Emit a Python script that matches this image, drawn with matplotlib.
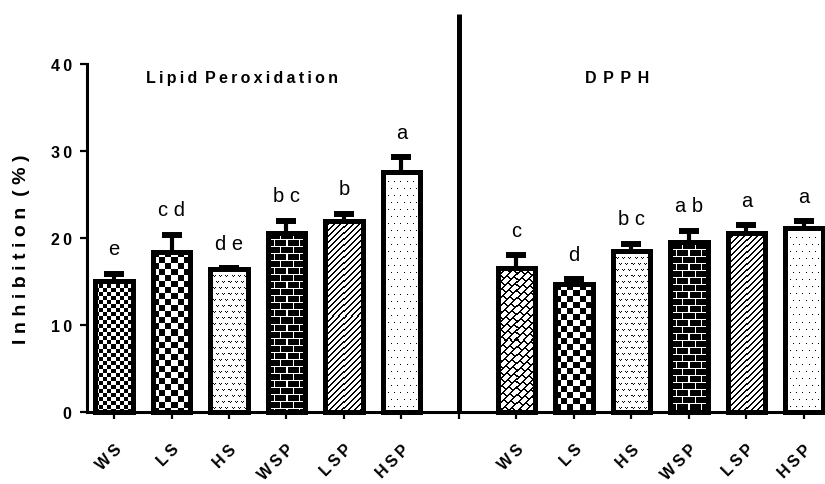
import numpy as np
import matplotlib
matplotlib.use('Agg')
import matplotlib.pyplot as plt

# data
treatments = ['WS', 'LS', 'HS', 'WSP', 'LSP', 'HSP']
assays = ['Lipid Peroxidation', 'DPPH']
lp_mean = [15.1, 18.4, 16.4, 20.6, 22.0, 27.6]
lp_err = [0.8, 2.0, 0.15, 1.4, 0.8, 1.7]
dpph_mean = [16.6, 14.7, 18.45, 19.5, 20.55, 21.2]
dpph_err = [1.4, 0.55, 0.9, 1.35, 0.9, 0.75]
lp_letters = ['e', 'cd', 'de', 'bc', 'b', 'a']
dpph_letters = ['c', 'd', 'bc', 'ab', 'a', 'a']
lp_fills = ['fine_check', 'check', 'vdots', 'brick', 'diag', 'dots']
dpph_fills = ['weave', 'check', 'vdots', 'brick', 'diag', 'dots']
yticks = [0, 10, 20, 30, 40]

FONT = ['Liberation Sans', 'DejaVu Sans']
plt.rcParams['font.family'] = FONT
TS = '\u2009'


def spaced(s, gap=TS):
    return gap.join(s)


def pattern(kind, h, w):
    # 1 = white, 0 = black, one array cell per screen pixel
    i, j = np.mgrid[0:h, 0:w]
    if kind == 'fine_check':
        return ((i // 4 + j // 4) % 2).astype(float)
    if kind == 'check':
        return ((i // 6 + j // 6) % 2).astype(float)
    if kind == 'vdots':
        jj = (j + 3 * ((i // 6) % 2)) % 6
        ii = i % 6
        black = ((ii == 0) & ((jj == 0) | (jj == 2))) | ((ii == 1) & (jj == 1))
        return (~black).astype(float)
    if kind == 'dots':
        black = ((i % 7) == 3) & (((j + 3 * ((i // 7) % 2)) % 6) == 2)
        return (~black).astype(float)
    if kind == 'diag':
        return (((i + j) % 6) >= 2).astype(float)
    if kind == 'brick':
        mortar = ((i % 7) == 0) | (((j + 6 * ((i // 7) % 2)) % 12) == 0)
        return mortar.astype(float)
    if kind == 'weave':
        u = i + j
        v = j - i
        black = ((u % 8) < 2) | ((((v + 6 * ((u // 8) % 2)) % 12) < 2))
        return (~black).astype(float)
    return np.ones((h, w))


fig = plt.figure(figsize=(8.25, 4.85), dpi=100)
ax = fig.add_axes([87 / 825, 72 / 485, 733 / 825, 348 / 485])
ax.set_xlim(-0.47, 12.28)
ax.set_ylim(0, 40)

x_pos = list(range(6)) + list(range(7, 13))
means = lp_mean + dpph_mean
errs = lp_err + dpph_err
letters = lp_letters + dpph_letters
fills = lp_fills + dpph_fills
width = 0.65

bars = ax.bar(x_pos, means, width=width, color='white', edgecolor='none', zorder=1)
for b, kind in zip(bars, fills):
    b.set_clip_on(False)
    x0, y0 = b.get_x(), 0
    x1, y1 = x0 + b.get_width(), b.get_height()
    (px0, py0), (px1, py1) = ax.transData.transform([(x0, y0), (x1, y1)])
    w = max(int(round(px1 - px0)), 1)
    h = max(int(round(py1 - py0)), 1)
    img = ax.imshow(pattern(kind, h, w), cmap='gray', vmin=0, vmax=1,
                    extent=(x0, x1, y0, y1), interpolation='nearest',
                    aspect='auto', zorder=2)
    img.set_clip_path(b)

eb = ax.errorbar(x_pos, means, yerr=[np.zeros(len(errs)), errs], fmt='none',
                 ecolor='black', elinewidth=3, capsize=7, capthick=4.3, zorder=2.5)
eb[1][0].set_visible(False)

outlines = ax.bar(x_pos, means, width=width, color='none', edgecolor='black',
                  linewidth=3.6, zorder=3)
for b in outlines:
    b.set_clip_on(False)

ax.set_xlim(-0.47, 12.28)
ax.set_ylim(0, 40)

# significance letters
for x, m, e, s in zip(x_pos, means, errs, letters):
    ax.annotate(' '.join(s) if len(s) > 1 else s, (x, m + e), xytext=(0, 11),
                textcoords='offset points', ha='center', va='bottom',
                fontsize=14.5, family=FONT)

# divider between the two assays
ax.plot([6, 6], [0, 45.7], color='black', lw=3.6, clip_on=False,
        solid_capstyle='butt', zorder=4)

ax.text(2.23, 38.5, spaced('Lipid') + TS + ' ' + spaced('Peroxidation'),
        ha='center', va='center', fontsize=11.5, fontweight='bold', family=FONT)
ax.text(8.75, 38.5, TS.join(TS + c for c in 'DPPH').strip(TS), ha='center',
        va='center', fontsize=11.5, fontweight='bold', family=FONT)

for side in ['top', 'right']:
    ax.spines[side].set_visible(False)
for side in ['left', 'bottom']:
    ax.spines[side].set_linewidth(2.2)

ax.set_xticks(range(13))
xlabels = [spaced(t) for t in treatments] + [''] + [spaced(t) for t in treatments]
ax.set_xticklabels(xlabels, rotation=45, ha='right', rotation_mode='anchor',
                   fontsize=11.5, fontweight='bold')
ax.set_yticks(yticks)
ax.set_yticklabels([spaced(str(v)) for v in yticks], fontsize=11.5, fontweight='bold')
ax.tick_params(axis='both', direction='out', length=5, width=1.6, pad=6)
ax.tick_params(axis='x', pad=16)

gap = '\u2009\u200a'
ylab = spaced('Inhibition', gap) + gap + ' ' + spaced('(%)', gap)
ax.set_ylabel(ylab, fontsize=14, fontweight='bold', labelpad=8)
ax.yaxis.set_label_coords(-0.078, 0.47)

fig.savefig('out.png', dpi=100)
